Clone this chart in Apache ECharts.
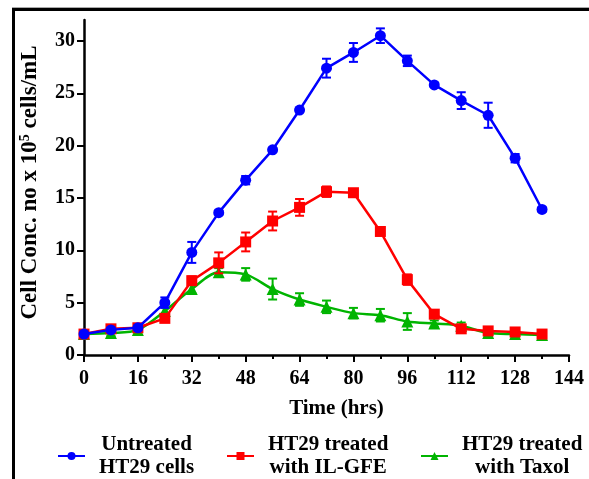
<!DOCTYPE html>
<html><head><meta charset="utf-8">
<script src="https://cdn.jsdelivr.net/npm/echarts@6/dist/echarts.min.js"></script>
<style>html,body{margin:0;padding:0;background:#fff}#c{width:589px;height:479px}</style>
</head><body><div id="c"></div>
<script>
const times = [0,8,16,24,32,40,48,56,64,72,80,88,96,104,112,120,128,136];
const untreated = [2.0,2.4,2.6,5.0,9.8,13.6,16.7,19.6,23.4,27.4,28.9,30.5,28.1,25.8,24.3,22.9,18.8,13.9];
const untreatedErr = [0.1,0.2,0.2,0.5,1.0,0.2,0.4,0.2,0.2,0.9,0.9,0.7,0.5,0.2,0.8,1.2,0.4,0.2];
const ilgfe = [2.0,2.5,2.6,3.5,7.1,8.8,10.8,12.8,14.1,15.6,15.5,11.8,7.2,3.9,2.5,2.3,2.2,2.0];
const ilgfeErr = [0.2,0.3,0.2,0.3,0.4,1.0,0.9,0.9,0.8,0.5,0.3,0.3,0.5,0.3,0.2,0.2,0.2,0.2];
const taxol = [2.0,2.1,2.4,4.2,6.3,7.9,7.7,6.3,5.3,4.6,4.0,3.8,3.2,3.0,2.8,2.1,2.0,1.9];
const taxolErr = [0.2,0.3,0.2,0.3,0.4,0.4,0.6,1.0,0.6,0.6,0.5,0.6,0.8,0.3,0.3,0.3,0.3,0.3];
const xTicks = [0,16,32,48,64,80,96,112,128,144];
const yTicks = [0,5,10,15,20,25,30];
const names = ['Untreated\nHT29 cells','HT29 treated\nwith IL-GFE','HT29 treated\nwith Taxol'];

const FONT = '"Liberation Serif","Times New Roman",serif';
const BLUE = '#0000ff', RED = '#ff0000', GREEN = '#00b400';

function pts(vals){ return times.map((t,i)=>[t, vals[i]]); }
function errs(vals, e){ return times.map((t,i)=>[t, vals[i]-e[i], vals[i]+e[i]]); }
function errSeries(vals, e, color, z){
  return {
    type:'custom', z:z, silent:true,
    data: errs(vals,e),
    renderItem: function(params, api){
      const x = api.value(0);
      const lo = api.coord([x, api.value(1)]);
      const hi = api.coord([x, api.value(2)]);
      const w = 4.5;
      const st = {stroke: color, lineWidth: 2};
      return {type:'group', children:[
        {type:'line', shape:{x1:lo[0],y1:lo[1],x2:hi[0],y2:hi[1]}, style:st},
        {type:'line', shape:{x1:lo[0]-w,y1:lo[1],x2:lo[0]+w,y2:lo[1]}, style:st},
        {type:'line', shape:{x1:hi[0]-w,y1:hi[1],x2:hi[0]+w,y2:hi[1]}, style:st}
      ]};
    }
  };
}
function legend(name, left){
  return {
    data:[name], left:left, top:429, itemWidth:27, itemHeight:10,
    formatter: function(n){ return n.split('\n').map(s=>'{c|'+s+'}').join('\n'); },
    textStyle:{ padding:[0,0,0,9],
      rich:{ c:{ align:'center', fontFamily:FONT, fontWeight:'bold', fontSize:21, lineHeight:23, color:'#000' } } }
  };
}
const chart = echarts.init(document.getElementById('c'));
chart.setOption({
  animation:false,
  backgroundColor:'#fff',
  grid:{left:84, right:20, top:20, bottom:124},
  xAxis:{
    type:'value', min:0, max:144, interval:16,
    name:'Time (hrs)', nameLocation:'middle', nameGap:43,
    nameTextStyle:{fontFamily:FONT, fontWeight:'bold', fontSize:21, color:'#000', padding:[0,0,0,20]},
    axisLine:{lineStyle:{color:'#000', width:2.5}},
    axisTick:{length:7, lineStyle:{width:2, color:'#000'}, customValues: xTicks},
    minorTick:{show:true, splitNumber:2, length:4, lineStyle:{width:2, color:'#000'}},
    axisLabel:{margin:14, fontFamily:FONT, fontWeight:'bold', fontSize:20, color:'#000', customValues: xTicks},
    splitLine:{show:false}
  },
  yAxis:{
    type:'value', min:0, max:32, interval:5,
    name:'{a|Cell Conc. no x 10}{s|5}{a| cells/mL}', nameLocation:'middle', nameGap:42,
    nameTextStyle:{padding:[0,0,0,10], rich:{
      a:{fontFamily:FONT, fontWeight:'bold', fontSize:23, color:'#000'},
      s:{fontFamily:FONT, fontWeight:'bold', fontSize:14, color:'#000', verticalAlign:'top', padding:[0,0,10,0]}
    }},
    axisLine:{show:true, lineStyle:{color:'#000', width:2.5}},
    axisTick:{show:true, length:7, lineStyle:{width:2, color:'#000'}, customValues: yTicks},
    axisLabel:{margin:9, fontFamily:FONT, fontWeight:'bold', fontSize:20, color:'#000', customValues: yTicks},
    splitLine:{show:false}
  },
  legend:[legend(names[0], 52), legend(names[1], 221), legend(names[2], 415)],
  graphic:[
    {type:'rect', shape:{x:12, y:7, width:577, height:1}, style:{fill:'#aaa'}, silent:true},
    {type:'rect', shape:{x:12, y:8, width:577, height:3}, style:{fill:'#000'}, silent:true},
    {type:'rect', shape:{x:12, y:8, width:3, height:471}, style:{fill:'#000'}, silent:true}
  ],
  series:[
    errSeries(taxol, taxolErr, GREEN, 2),
    {name:names[2], type:'line', z:2, data:pts(taxol), smooth:0.3, symbol:'triangle', symbolSize:12,
      lineStyle:{color:GREEN, width:2.5}, itemStyle:{color:GREEN}},
    errSeries(ilgfe, ilgfeErr, RED, 3),
    {name:names[1], type:'line', z:3, data:pts(ilgfe), symbol:'rect', symbolSize:11,
      lineStyle:{color:RED, width:2.5}, itemStyle:{color:RED}},
    errSeries(untreated, untreatedErr, BLUE, 4),
    {name:names[0], type:'line', z:4, data:pts(untreated), symbol:'circle', symbolSize:11,
      lineStyle:{color:BLUE, width:2.5}, itemStyle:{color:BLUE}}
  ]
});
</script></body></html>
